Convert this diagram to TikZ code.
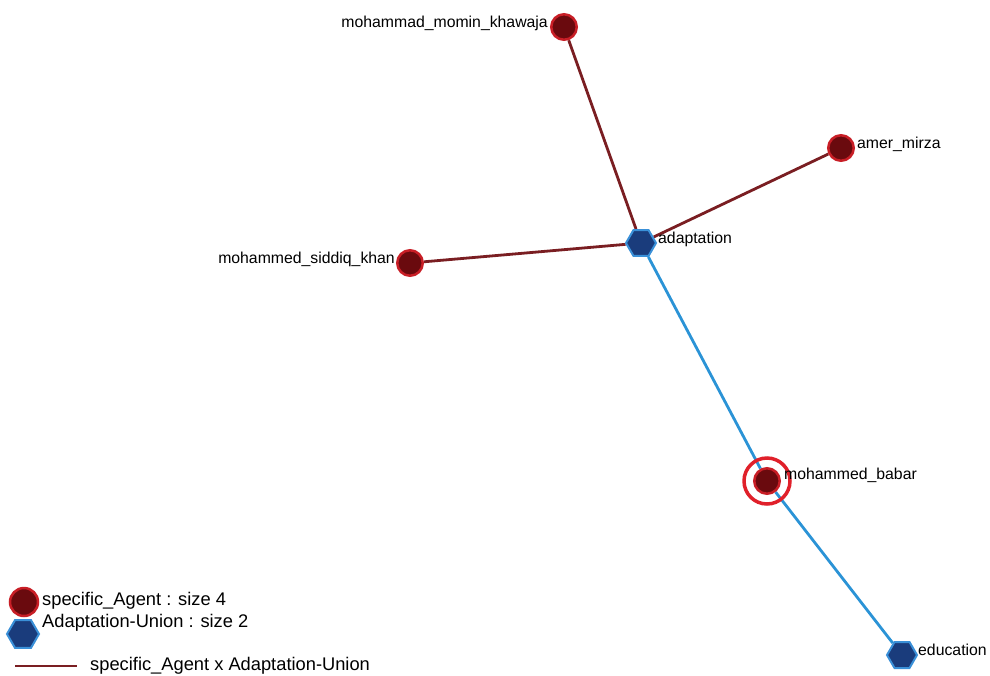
\documentclass[tikz,border=0pt]{standalone}
\usepackage{fontspec}
\setmainfont{Liberation Sans}
\usepackage{xcolor}
\usetikzlibrary{shapes,positioning,backgrounds}

\definecolor{agentfill}{HTML}{6A0A0E}
\definecolor{agentline}{HTML}{C81E26}
\definecolor{unionfill}{HTML}{1A3C7C}
\definecolor{unionline}{HTML}{3A90D8}
\definecolor{linkred}{HTML}{7A1E22}
\definecolor{linkblue}{HTML}{2B93D6}
\definecolor{ringred}{HTML}{E0202A}

\begin{document}
\begin{tikzpicture}[
    x=1pt, y=-1pt,
    agent/.style={circle, draw=agentline, fill=agentfill, line width=2.5pt, minimum size=25.5pt, inner sep=0pt},
    union/.style={regular polygon, regular polygon sides=6, draw=unionline, fill=unionfill, line width=2pt, minimum size=30pt, inner sep=0pt},
    ring/.style={circle, draw=ringred, line width=3.5pt, minimum size=46pt, inner sep=0pt},
    lbl/.style={font=\fontsize{15.8}{18}\selectfont, inner sep=0pt},
    keytext/.style={font=\fontsize{18.3}{21}\selectfont, inner sep=0pt, anchor=base west},
    redlink/.style={draw=linkred, line width=2.8pt},
    bluelink/.style={draw=linkblue, line width=2.8pt}
]
    \useasboundingbox (0,0) rectangle (990,675);

    % network
    \node[agent] (momin) at (564,27) {};
    \node[agent] (amer) at (841,148) {};
    \node[union] (adapt) at (641,243) {};
    \node[agent] (siddiq) at (410,263) {};
    \node[ring] (babar-ring) at (767,481) {};
    \node[agent] (babar) at (767,481) {};
    \node[union] (educ) at (902,655) {};

    \node[lbl, anchor=base east] (momin-t) at ([xshift=-16pt]momin.center) {mohammad\_momin\_khawaja};
    \node[lbl, anchor=base west] (amer-t) at ([xshift=16pt]amer.center) {amer\_mirza};
    \node[lbl, anchor=base west] (adapt-t) at ([xshift=17pt]adapt.center) {adaptation};
    \node[lbl, anchor=base east] (siddiq-t) at ([xshift=-15pt]siddiq.center) {mohammed\_siddiq\_khan};
    \node[lbl, anchor=base west] (babar-t) at ([xshift=17pt,yshift=2pt]babar.center) {mohammed\_babar};
    \node[lbl, anchor=base west] (educ-t) at ([xshift=16pt]educ.center) {education};

    \begin{pgfonlayer}{background}
        \draw[redlink] (momin) -- (adapt);
        \draw[redlink] (amer) -- (adapt);
        \draw[redlink] (siddiq) -- (adapt);
        \draw[bluelink] (adapt) -- (babar);
        \draw[bluelink] (babar) -- (educ);
    \end{pgfonlayer}

    % legend
    \node[agent, minimum size=28pt] (key-agent) at (24,602) {};
    \node[union, minimum size=32pt] (key-union) at (23,634) {};
    \coordinate (key-a) at (15,666);
    \coordinate (key-b) at (77,666);
    \draw[redlink] (key-a) -- (key-b);

    \node[keytext] (key-agent-t) at (42,605) {specific\_Agent : size 4};
    \node[keytext] (key-union-t) at (42,627) {Adaptation-Union : size 2};
    \node[keytext] (key-link-t) at (90,670) {specific\_Agent x Adaptation-Union};
\end{tikzpicture}
\end{document}
